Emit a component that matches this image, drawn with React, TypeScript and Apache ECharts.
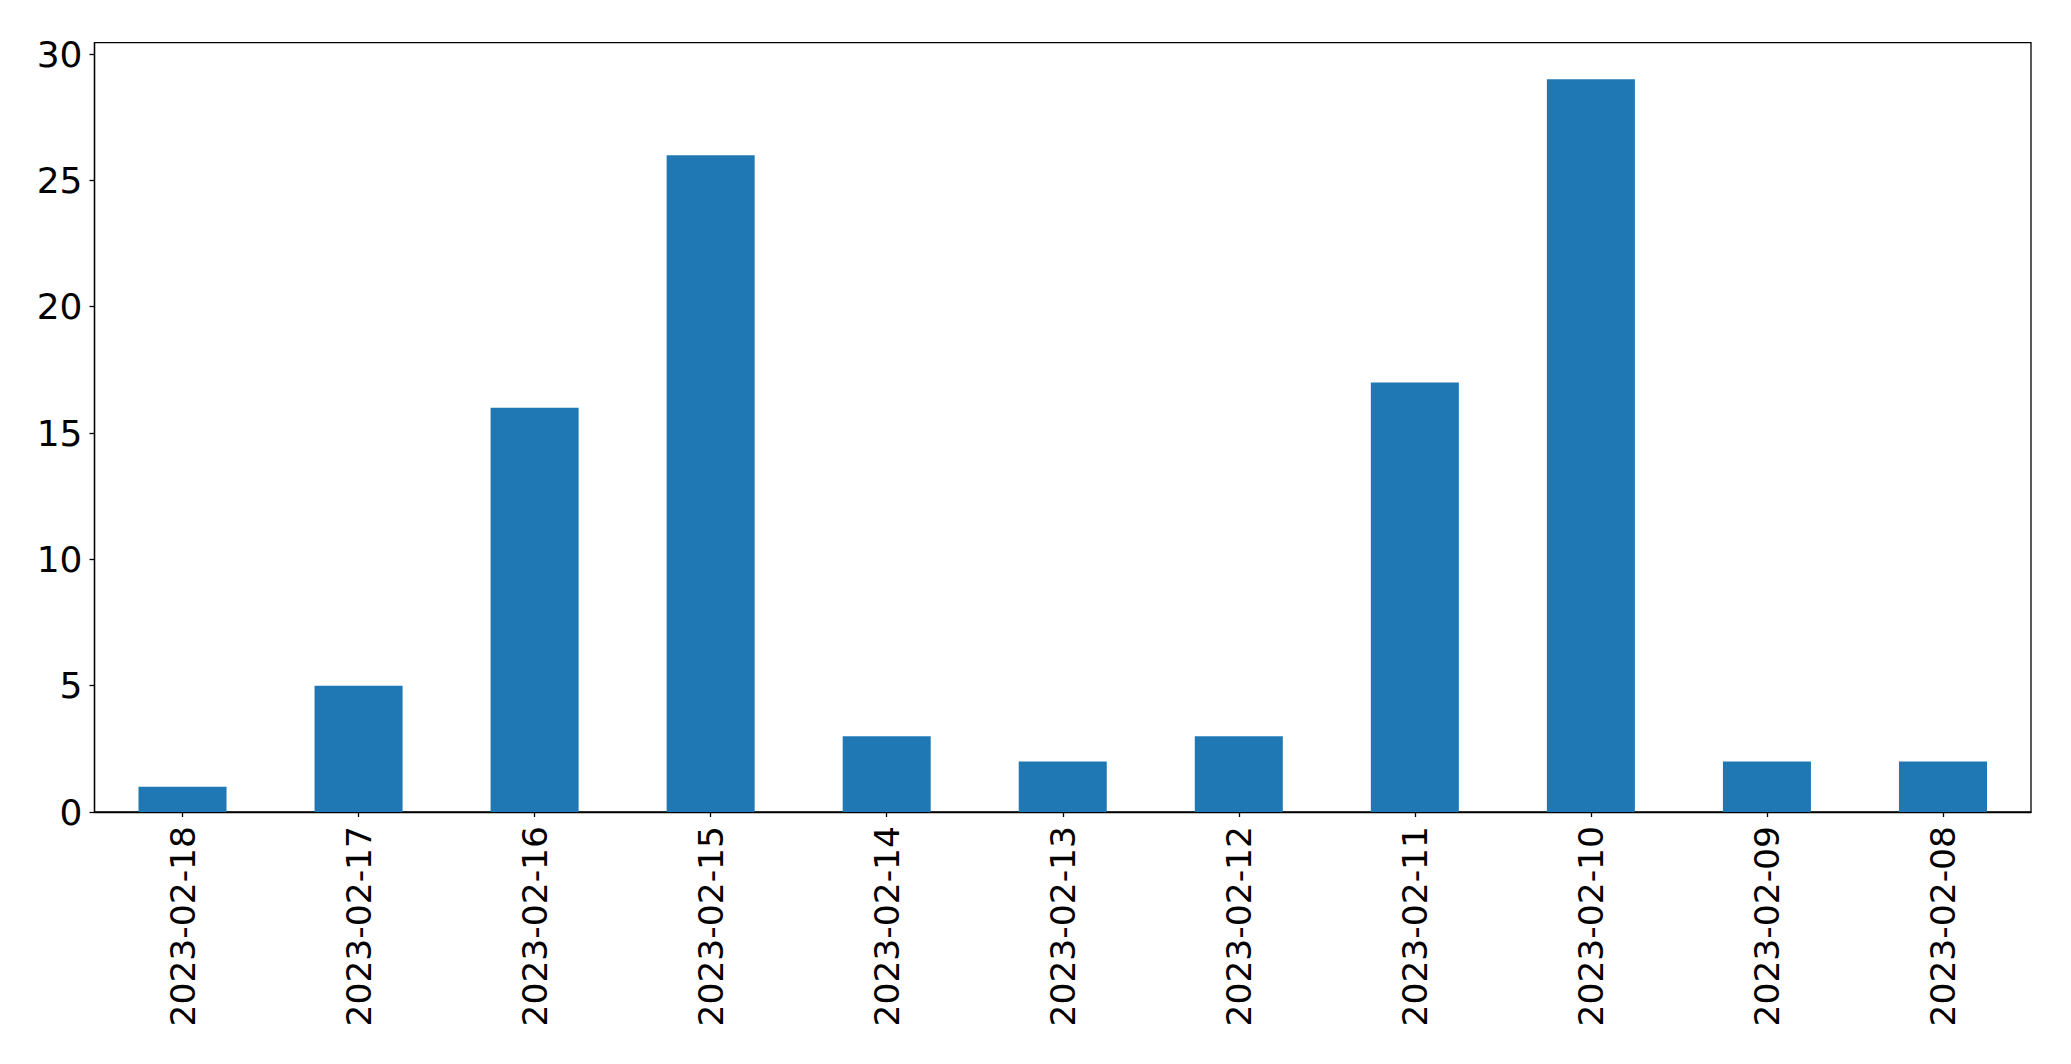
import React, { useEffect, useRef } from "react";
import * as echarts from "echarts";

const categories = [
  "2023-02-18",
  "2023-02-17",
  "2023-02-16",
  "2023-02-15",
  "2023-02-14",
  "2023-02-13",
  "2023-02-12",
  "2023-02-11",
  "2023-02-10",
  "2023-02-09",
  "2023-02-08",
];
const values = [1, 5, 16, 26, 3, 2, 3, 17, 29, 2, 2];
const yTicks = [0, 5, 10, 15, 20, 25, 30];

export default function App() {
  const ref = useRef<HTMLDivElement>(null);
  useEffect(() => {
    if (!ref.current) return;
    const chart = echarts.init(ref.current, null, { renderer: "svg" });
    const font = "DejaVu Sans";
    chart.setOption({
      animation: false,
      backgroundColor: "#ffffff",
      grid: {
        left: 94.5,
        right: 40,
        top: 42.7,
        bottom: 252,
        show: true,
        borderColor: "#000000",
        borderWidth: 1.3,
        backgroundColor: "transparent",
      },
      xAxis: {
        type: "category",
        data: categories,
        boundaryGap: true,
        axisLine: { show: true, lineStyle: { color: "#000", width: 1.3 } },
        axisTick: { show: true, alignWithLabel: true, length: 5, lineStyle: { color: "#000", width: 1.3 } },
        axisLabel: {
          rotate: 90,
          interval: 0,
          margin: 14,
          color: "#000",
          fontFamily: font,
          fontSize: 34.5,
        },
        splitLine: { show: false },
      },
      yAxis: {
        type: "value",
        min: 0,
        max: 30.45,
        interval: 5,
        axisLine: { show: true, lineStyle: { color: "#000", width: 1.3 } },
        axisTick: { show: true, length: 5, customValues: yTicks, lineStyle: { color: "#000", width: 1.3 } },
        axisLabel: {
          customValues: yTicks,
          margin: 12,
          color: "#000",
          fontFamily: font,
          fontSize: 36,
        },
        splitLine: { show: false },
      },
      series: [
        {
          type: "bar",
          data: values,
          barWidth: "50%",
          itemStyle: { color: "#1f77b4" },
        },
      ],
    });
    return () => chart.dispose();
  }, []);
  return (
    <div
      ref={ref}
      style={{ position: "fixed", left: 0, top: 0, width: 2071, height: 1064, background: "#fff" }}
    />
  );
}
